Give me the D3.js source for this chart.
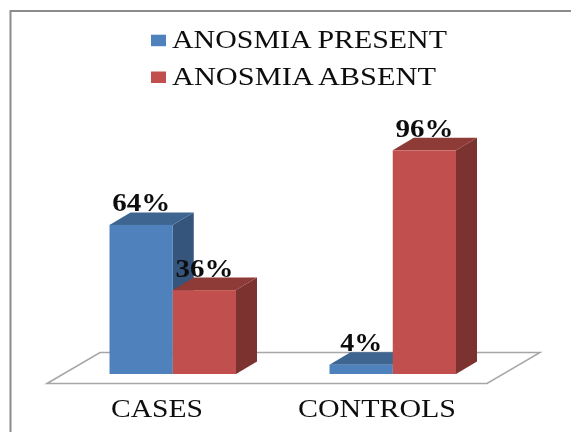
<!DOCTYPE html>
<html>
<head>
<meta charset="UTF-8">
<title>Anosmia</title>
<script src="https://cdn.jsdelivr.net/npm/d3@7"></script>
<style>
  html, body { margin: 0; padding: 0; background: #fff; }
  svg { display: block; }
  text { font-family: "Liberation Serif", serif; fill: #111; }
</style>
</head>
<body>
<script>
var categories = ["CASES", "CONTROLS"];
var seriesNames = ["ANOSMIA PRESENT", "ANOSMIA ABSENT"];
var present = [64, 4];
var absent = [36, 96];

var width = 571, height = 432;
var depthX = 21, depthY = 12.5;   // 3d offset of the columns

var faceColor = ["#4f81bd", "#c0504d"],
    topColor = ["#3e6590", "#8e3b39"],
    sideColor = ["#34547c", "#7b302e"];

var svg = d3.select("body").append("svg")
  .attr("width", width)
  .attr("height", height);

// the source is a soft, upscaled picture
svg.append("filter").attr("id", "soft")
  .append("feGaussianBlur").attr("stdDeviation", 0.5);

var g = svg.append("g").attr("filter", "url(#soft)");

// frame, only top and left are visible
g.append("path")
  .attr("d", d3.line()([[width, 11], [10.5, 11], [10.5, height]]))
  .attr("fill", "none")
  .attr("stroke", "#8c8c8c")
  .attr("stroke-width", 2);

var x0 = d3.scaleBand().domain(categories).range([62.75, 502.75])
  .paddingInner(0.425).paddingOuter(0.2125);
var x1 = d3.scaleBand().domain(d3.range(seriesNames.length)).range([0, x0.bandwidth()]);
var y = d3.scaleLinear().domain([0, 100]).range([374, 141]);

// floor
var floorLeft = x0.range()[0] - 15.75,
    floorRight = x0.range()[1] - 15.75,
    floorFront = y(0) + 9.5,
    floorBack = y(0) - 21.5;
g.append("path")
  .attr("d", d3.line()([
    [floorLeft, floorFront], [floorLeft + 53, floorBack],
    [floorRight + 53, floorBack], [floorRight, floorFront]
  ]) + "Z")
  .attr("fill", "#fff")
  .attr("stroke", "#a6a6a6")
  .attr("stroke-width", 1.5);

var rows = [];
categories.forEach(function (c, i) {
  rows.push({ cat: c, s: 0, v: present[i] });
  rows.push({ cat: c, s: 1, v: absent[i] });
});

var bars = g.selectAll("g.bar").data(rows).enter().append("g").attr("class", "bar");

bars.each(function (d) {
  var left = x0(d.cat) + x1(d.s),
      right = left + x1.bandwidth(),
      top = y(d.v),
      base = y(0),
      b = d3.select(this);
  b.append("path")   // side
    .attr("d", d3.line()([[right, top], [right + depthX, top - depthY], [right + depthX, base - depthY], [right, base]]) + "Z")
    .attr("fill", sideColor[d.s]);
  b.append("path")   // top
    .attr("d", d3.line()([[left, top], [left + depthX, top - depthY], [right + depthX, top - depthY], [right, top]]) + "Z")
    .attr("fill", topColor[d.s]);
  b.append("rect")
    .attr("x", left)
    .attr("y", top)
    .attr("width", x1.bandwidth())
    .attr("height", base - top)
    .attr("fill", faceColor[d.s]);
});

// value labels go after all the bars, 36% sits on the blue side
g.selectAll("text.value").data(rows).enter().append("text")
  .attr("class", "value")
  .attr("x", function (d) { return x0(d.cat) + x1(d.s) + x1.bandwidth() / 2; })
  .attr("y", function (d) { return y(d.v) - 13.5; })
  .attr("text-anchor", "middle")
  .attr("font-size", 26)
  .attr("font-weight", "bold")
  .attr("textLength", function (d) { return d.v < 10 ? 42 : 58; })
  .attr("lengthAdjust", "spacingAndGlyphs")
  .text(function (d) { return d.v + "%"; });

// category axis, shifted to the front of the floor
var axis = g.append("g")
  .attr("transform", "translate(-15.75," + (y(0) + 42.5) + ")");
var labelWidth = [92, 158];
categories.forEach(function (c, i) {
  axis.append("text")
    .attr("x", x0(c) + x0.bandwidth() / 2)
    .attr("text-anchor", "middle")
    .attr("font-size", 25)
    .attr("textLength", labelWidth[i])
    .attr("lengthAdjust", "spacingAndGlyphs")
    .text(c);
});

// legend
var legendY = [34.7, 71.5];
var legendWidth = [275, 264];
seriesNames.forEach(function (name, i) {
  g.append("rect")
    .attr("x", 151)
    .attr("y", legendY[i])
    .attr("width", 15)
    .attr("height", 11.5)
    .attr("fill", faceColor[i]);
  g.append("text")
    .attr("x", 172)
    .attr("y", legendY[i] + 13.6)
    .attr("font-size", 25)
    .attr("textLength", legendWidth[i])
    .attr("lengthAdjust", "spacingAndGlyphs")
    .text(name);
});
</script>
</body>
</html>
